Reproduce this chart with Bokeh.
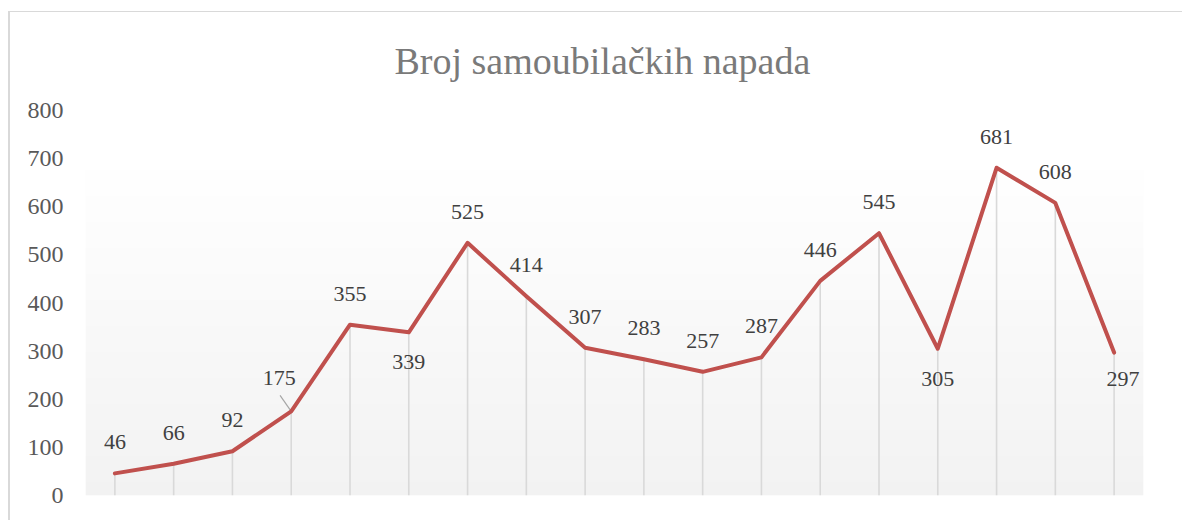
import numpy as np
from bokeh.plotting import figure
from bokeh.models import ColumnDataSource, FixedTicker, Range1d
from bokeh.core.properties import value
from bokeh.embed import file_html
from bokeh.resources import INLINE

# ---- data ----
points = list(range(1, 19))
attacks = [46, 66, 92, 175, 355, 339, 525, 414, 307, 283, 257, 287, 446, 545, 305, 681, 608, 297]
y_ticks = [0, 100, 200, 300, 400, 500, 600, 700, 800]
title = "Broj samoubilačkih napada"

# ---- label placement (style) ----
place = ["above"] * 18
place[3] = "leader"
place[5] = "below"
place[14] = "below"
place[17] = "below_right"
offs = {"above": (0, -31), "below": (0, 30), "below_right": (9, 26), "leader": (-12, -33)}
dx = [offs[p][0] for p in place]
dy = [offs[p][1] for p in place]

FONT = "Liberation Serif"

p = figure(width=1174, height=509, output_backend="svg", toolbar_location=None,
           x_range=Range1d(0.5, 18.5), y_range=Range1d(0, 800),
           min_border_left=75, min_border_right=41, min_border_top=98, min_border_bottom=26)
p.styles = {"margin-top": "11px", "margin-left": "8px",
            "border-left": "2px solid #d9d9d9", "border-top": "1px solid #d9d9d9"}

p.title.text = title
p.title.align = "left"
p.title.vertical_align = "top"
p.title.text_font = FONT
p.title.text_font_size = "38px"
p.title.text_font_style = "normal"
p.title.text_color = "#7a7a7a"
p.title.offset = 309
p.title.standoff = 54

p.outline_line_color = None
p.background_fill_color = "white"
p.border_fill_color = "white"
p.xgrid.visible = False
p.ygrid.visible = False
p.xaxis.visible = False

ax = p.yaxis[0]
ax.ticker = FixedTicker(ticks=y_ticks)
ax.axis_line_color = None
ax.major_tick_line_color = None
ax.minor_tick_line_color = None
ax.major_label_text_font = FONT
ax.major_label_text_font_size = "24px"
ax.major_label_text_color = "#595959"
ax.major_label_standoff = 16

# gradient plot-area fill (style)
N = 400
t = np.linspace(0.0, 1.0, N)
g = np.round(0xF2 + (0xFF - 0xF2) * np.clip(t / 0.88, 0, 1)).astype(np.uint32)
img = np.zeros((N, 2), dtype=np.uint32)
img[:, :] = ((0xFF << 24) | (g << 16) | (g << 8) | g)[:, None]
p.image_rgba(image=[img], x=0.5, y=0, dw=18, dh=800)

src = ColumnDataSource(dict(x=points, y=attacks, lab=[str(v) for v in attacks], dx=dx, dy=dy,
                            zero=[0] * 18))

# drop lines
p.segment(x0="x", y0="zero", x1="x", y1="y", source=src, line_color="#d9d9d9", line_width=1.6)

# leader line for the label of the 4th point
i = place.index("leader")
p.segment(x0=[points[i] - 0.19], y0=[attacks[i] + 33], x1=[points[i]], y1=[attacks[i]],
          line_color="#a6a6a6", line_width=1.2)

p.line("x", "y", source=src, line_color="#c0504d", line_width=4, line_join="round", line_cap="round")

p.text("x", "y", text="lab", source=src, x_offset="dx", y_offset="dy",
       text_font=value(FONT), text_font_size="22px", text_color="#404040",
       text_align="center", text_baseline="middle")

open("out.html", "w").write(file_html(p, INLINE))
